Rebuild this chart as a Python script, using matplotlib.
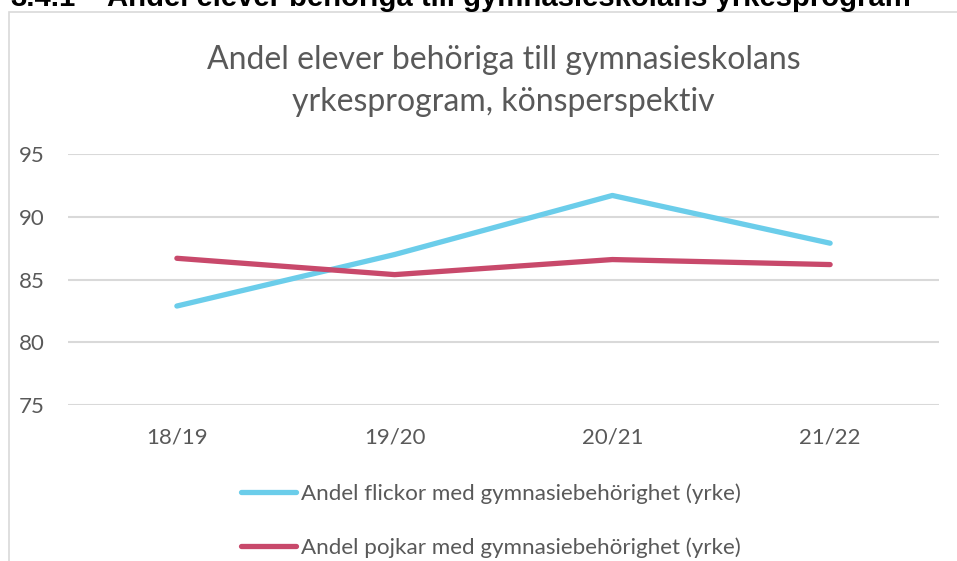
import matplotlib
matplotlib.use('Agg')
import matplotlib.pyplot as plt
from matplotlib.patches import Rectangle
from matplotlib.lines import Line2D

# data
years = ['18/19', '19/20', '20/21', '21/22']
flickor = [82.9, 87.0, 91.7, 87.9]
pojkar = [86.7, 85.4, 86.6, 86.2]
labels = ['Andel flickor med gymnasiebehörighet (yrke)',
          'Andel pojkar med gymnasiebehörighet (yrke)']
yticks = [75, 80, 85, 90, 95]

heading_no = '3.4.1'
heading = 'Andel elever behöriga till gymnasieskolans yrkesprogram'
title = 'Andel elever behöriga till gymnasieskolans\nyrkesprogram, könsperspektiv'

W, H = 957, 561
gray = '#595959'
grid = '#D9D9D9'
c_flickor = '#6BCDEA'
c_pojkar = '#C8496B'

plt.rcParams['font.family'] = ['Lato', 'DejaVu Sans']

fig = plt.figure(figsize=(W / 100, H / 100), dpi=100)

# chart frame (runs past right and bottom edge)
fig.patches.append(Rectangle((8.5 / W, -0.1), 1.2, 1 - 11.5 / H + 0.1,
                             transform=fig.transFigure, fill=False,
                             edgecolor=grid, linewidth=1.2, clip_on=False))

# clipped document heading above the chart
fig.text(10 / W, 1 - 6 / H, heading_no, fontsize=21.1, fontweight='bold',
         family='Liberation Sans', color='black', va='baseline', ha='left')
fig.text(107 / W, 1 - 6 / H, heading, fontsize=21.1, fontweight='bold',
         family='Liberation Sans', color='black', va='baseline', ha='left')

fig.text(0.5 * (68 + 939) / W, 1 - 81 / H, title, fontsize=23, color=gray,
         ha='center', va='center', linespacing=1.5)

ax = fig.add_axes([68 / W, 1 - 405.3 / H, (939 - 68) / W, (405.3 - 154) / H])
x = list(range(len(years)))
ax.plot(x, flickor, color=c_flickor, linewidth=3.8, solid_capstyle='round',
        solid_joinstyle='round', zorder=3)
ax.plot(x, pojkar, color=c_pojkar, linewidth=3.8, solid_capstyle='round',
        solid_joinstyle='round', zorder=3)

ax.set_xlim(-0.5, len(years) - 0.5)
ax.set_ylim(75, 95)
ax.set_yticks(yticks)
ax.set_xticks(x)
ax.set_xticklabels(years)
ax.yaxis.grid(True, color=grid, linewidth=1.5)
ax.set_axisbelow(True)
for s in ax.spines.values():
    s.set_visible(False)
ax.tick_params(axis='both', length=0, labelsize=16, labelcolor=gray)
ax.tick_params(axis='y', pad=17)
ax.tick_params(axis='x', pad=16)

handles = [Line2D([], [], color=c_flickor, linewidth=3.8, solid_capstyle='round'),
           Line2D([], [], color=c_pojkar, linewidth=3.8, solid_capstyle='round')]
leg = fig.legend(handles, labels, loc='upper left',
                 bbox_to_anchor=(241 / W, 1 - 483 / H), frameon=False,
                 fontsize=16.1, handlelength=2.45, handletextpad=0.22,
                 labelspacing=1.5, borderpad=0, borderaxespad=0)
for t in leg.get_texts():
    t.set_color(gray)

fig.savefig('out.png', dpi=100, facecolor='white')
